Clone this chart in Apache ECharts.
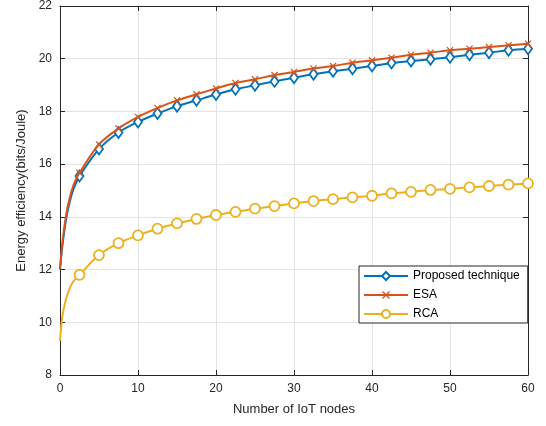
<!DOCTYPE html>
<html>
<head>
<meta charset="utf-8">
<script src="https://cdn.jsdelivr.net/npm/echarts@6/dist/echarts.min.js"></script>
<style>html,body{margin:0;padding:0;background:#fff;}#c{width:546px;height:426px;}</style>
</head>
<body>
<div id="c"></div>
<script>
// Curve start (no markers)
const xEarly = [0, 0.25, 0.5, 0.75, 1, 1.5, 2];
const proposedEarly = [12.0, 12.75, 13.35, 13.85, 14.25, 14.85, 15.25];
const esaEarly      = [12.05, 12.85, 13.5, 14.0, 14.4, 15.0, 15.4];
const rcaEarly      = [9.3, 10.1, 10.55, 10.85, 11.1, 11.45, 11.65];
// Marker points
const xMarks = [2.5, 5, 7.5, 10, 12.5, 15, 17.5, 20, 22.5, 25, 27.5, 30, 32.5, 35, 37.5, 40, 42.5, 45, 47.5, 50, 52.5, 55, 57.5, 60];
const proposed = [15.55, 16.57, 17.2, 17.6, 17.92, 18.2, 18.42, 18.64, 18.84, 18.99, 19.14, 19.28, 19.41, 19.52, 19.62, 19.72, 19.84, 19.91, 19.98, 20.06, 20.15, 20.23, 20.32, 20.38];
const esa      = [15.67, 16.75, 17.35, 17.79, 18.13, 18.42, 18.65, 18.87, 19.08, 19.22, 19.38, 19.5, 19.63, 19.72, 19.85, 19.94, 20.04, 20.15, 20.23, 20.32, 20.38, 20.44, 20.51, 20.57];
const rca      = [11.8, 12.55, 13.0, 13.3, 13.55, 13.75, 13.92, 14.07, 14.19, 14.31, 14.41, 14.51, 14.6, 14.67, 14.74, 14.8, 14.89, 14.95, 15.02, 15.06, 15.12, 15.17, 15.22, 15.27];
const xTicks = [0, 10, 20, 30, 40, 50, 60];
const yTicks = [8, 10, 12, 14, 16, 18, 20, 22];
const names = ['Proposed technique', 'ESA', 'RCA'];
const colors = ['#0072BD', '#D95319', '#EDB120'];

function build(early, marks) {
  const d = xEarly.map((x, i) => ({ value: [x, early[i]], symbol: 'none' }));
  xMarks.forEach((x, i) => d.push({ value: [x, marks[i]] }));
  return d;
}
const xPath = 'path://M0,1.2 L1.2,0 L5,3.8 L8.8,0 L10,1.2 L6.2,5 L10,8.8 L8.8,10 L5,6.2 L1.2,10 L0,8.8 L3.8,5 Z';

const chart = echarts.init(document.getElementById('c'), null, { renderer: 'canvas' });
const font = 'Liberation Sans, Arial, Helvetica, sans-serif';
const axisCommon = {
  axisLine: { show: true, lineStyle: { color: '#262626', width: 1 } },
  axisTick: { show: true, inside: true, length: 5, lineStyle: { color: '#262626' } },
  splitLine: { show: true, lineStyle: { color: '#e3e3e3', width: 1 } },
  axisLabel: { color: '#262626', fontSize: 12, fontFamily: font }
};
chart.setOption({
  animation: false,
  textStyle: { fontFamily: font },
  grid: { left: 60, right: 18, top: 6, bottom: 51, containLabel: false },
  legend: {
    data: names,
    orient: 'vertical',
    left: 359, top: 266,
    backgroundColor: '#fff',
    borderColor: '#262626', borderWidth: 1,
    padding: [4, 8, 3, 4],
    itemWidth: 44, itemHeight: 10, itemGap: 7,
    textStyle: { fontSize: 12, color: '#000', fontFamily: font }
  },
  xAxis: [
    Object.assign({}, axisCommon, {
      type: 'value', min: 0, max: 60, interval: 10,
      name: 'Number of IoT nodes', nameLocation: 'middle', nameGap: 28,
      nameTextStyle: { fontSize: 13, color: '#262626', fontFamily: font },
      axisLabel: Object.assign({}, axisCommon.axisLabel, { margin: 8 })
    }),
    { type: 'value', min: 0, max: 60, interval: 10, position: 'top',
      axisLine: { show: true, onZero: false, lineStyle: { color: '#262626' } },
      axisTick: { show: true, inside: true, length: 5, lineStyle: { color: '#262626' } },
      axisLabel: { show: false }, splitLine: { show: false } }
  ],
  yAxis: [
    Object.assign({}, axisCommon, {
      type: 'value', min: 8, max: 22, interval: 2,
      name: 'Energy efficiency(bits/Joule)', nameLocation: 'middle', nameGap: 30,
      nameTextStyle: { fontSize: 13, color: '#262626', fontFamily: font },
      axisLabel: Object.assign({}, axisCommon.axisLabel, { margin: 8 })
    }),
    { type: 'value', min: 8, max: 22, interval: 2, position: 'right',
      axisLine: { show: true, onZero: false, lineStyle: { color: '#262626' } },
      axisTick: { show: true, inside: true, length: 5, lineStyle: { color: '#262626' } },
      axisLabel: { show: false }, splitLine: { show: false } }
  ],
  series: [
    { name: names[0], type: 'line', data: build(proposedEarly, proposed), smooth: 0.35,
      symbol: 'diamond', symbolSize: [8, 11], z: 3,
      lineStyle: { color: colors[0], width: 2 },
      itemStyle: { color: '#fff', borderColor: colors[0], borderWidth: 1.8 } },
    { name: names[1], type: 'line', data: build(esaEarly, esa), smooth: 0.35,
      symbol: xPath, symbolSize: 7, z: 4,
      lineStyle: { color: colors[1], width: 2 },
      itemStyle: { color: colors[1], borderColor: colors[1], borderWidth: 0 } },
    { name: names[2], type: 'line', data: build(rcaEarly, rca), smooth: 0.35,
      symbol: 'circle', symbolSize: 10, z: 3,
      lineStyle: { color: colors[2], width: 2 },
      itemStyle: { color: '#fff', borderColor: colors[2], borderWidth: 1.8 } }
  ]
});
</script>
</body>
</html>
